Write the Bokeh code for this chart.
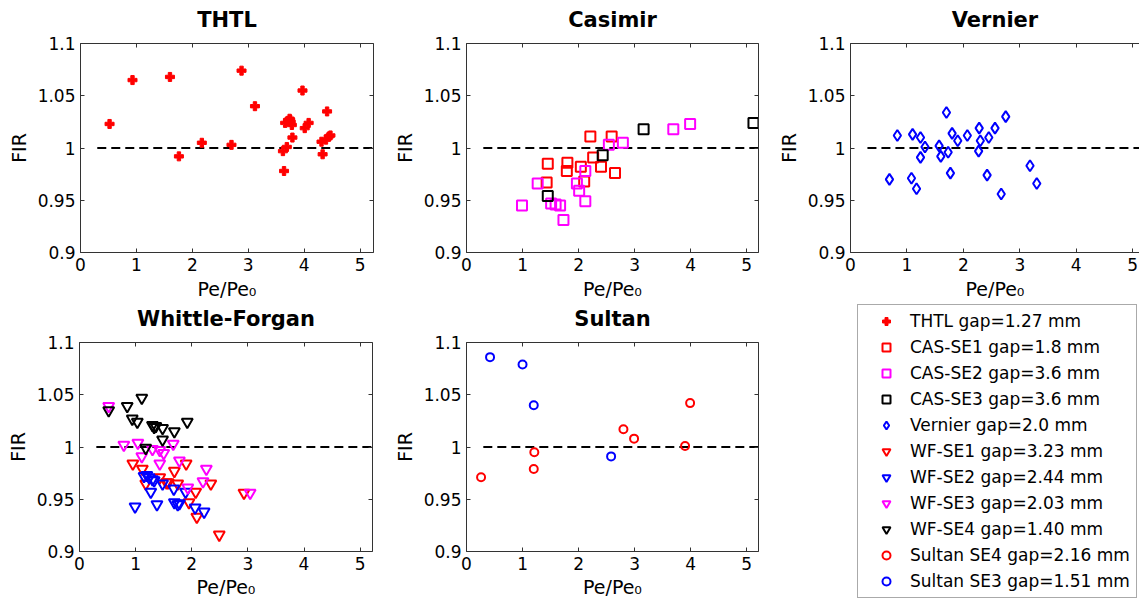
from bokeh.plotting import figure
from bokeh.layouts import column, row
from bokeh.models import (FixedTicker, LinearAxis, Legend, LegendItem,
                          ColumnDataSource, Range1d)
from bokeh.embed import file_html
from bokeh.resources import INLINE

# ---------------- data ----------------
titles = ["THTL", "Casimir", "Vernier", "Whittle-Forgan", "Sultan"]
x_axis_label = "Pe/Pe\u2080"
y_axis_label = "FIR"
x_ticks = [0, 1, 2, 3, 4, 5]
y_ticks = [0.9, 0.95, 1.0, 1.05, 1.1]
y_tick_labels = ["0.9", "0.95", "1", "1.05", "1.1"]
ref_x = [0.3, 5.6]
ref_y = [1.0, 1.0]

thtl_x = [0.52, 0.93, 1.60, 1.76, 2.17, 2.70, 2.88, 3.12, 3.64, 3.62, 3.66, 3.69, 3.71,
          3.74, 3.76, 3.78, 3.75, 3.79, 3.97, 4.01, 4.08, 4.31, 4.33, 4.41, 4.39, 4.44, 4.47]
thtl_y = [1.023, 1.065, 1.068, 0.992, 1.005, 1.003, 1.074, 1.040, 0.978, 0.997, 1.024, 1.001, 1.026,
          1.028, 1.025, 1.022, 1.027, 1.010, 1.055, 1.019, 1.024, 1.006, 0.994, 1.035, 1.008, 1.011, 1.012]

cas1_x = [1.45, 1.43, 1.80, 1.79, 2.04, 2.10, 2.21, 2.26, 2.40, 2.59, 2.65]
cas1_y = [0.985, 0.967, 0.986, 0.978, 0.982, 0.968, 1.011, 0.991, 0.982, 1.011, 0.976]
cas2_x = [0.99, 1.27, 1.51, 1.59, 1.67, 1.73, 1.97, 2.01, 2.12, 2.12, 2.54, 2.79, 3.69, 3.99]
cas2_y = [0.945, 0.966, 0.947, 0.946, 0.945, 0.931, 0.966, 0.959, 0.978, 0.949, 1.003, 1.005, 1.018, 1.023]
cas3_x = [1.45, 2.43, 3.16, 5.12]
cas3_y = [0.954, 0.993, 1.018, 1.024]

vern_x = [0.69, 0.83, 1.08, 1.10, 1.17, 1.24, 1.24, 1.32, 1.57, 1.60, 1.70, 1.73, 1.77,
          1.80, 1.90, 2.07, 2.28, 2.27, 2.30, 2.42, 2.45, 2.56, 2.67, 2.75, 3.18, 3.30]
vern_y = [0.970, 1.012, 0.971, 1.013, 0.961, 1.010, 0.991, 1.001, 1.002, 0.992, 1.034, 0.996, 0.976,
          1.014, 1.007, 1.012, 1.019, 0.997, 1.007, 0.974, 1.010, 1.019, 0.956, 1.030, 0.983, 0.966]

wf1_x = [0.95, 1.12, 1.18, 1.43, 1.55, 1.58, 1.69, 1.75, 1.90, 1.95, 2.07, 2.09, 2.34, 2.49, 2.93]
wf1_y = [0.984, 0.979, 0.965, 0.971, 0.966, 0.966, 0.977, 0.965, 0.984, 0.947, 0.957, 0.933, 0.965, 0.916, 0.956]
wf2_x = [0.99, 1.15, 1.20, 1.24, 1.30, 1.33, 1.27, 1.38, 1.48, 1.68, 1.69, 1.75, 1.78, 1.89, 2.06, 2.22]
wf2_y = [0.943, 0.972, 0.973, 0.971, 0.969, 0.968, 0.957, 0.945, 0.965, 0.960, 0.947, 0.945, 0.946, 0.957, 0.942, 0.938]
wf3_x = [0.52, 0.79, 1.04, 1.11, 1.30, 1.43, 1.43, 1.50, 1.67, 1.78, 1.93, 2.20, 2.26, 3.04]
wf3_y = [1.039, 1.002, 1.004, 0.991, 0.998, 0.984, 0.997, 0.994, 1.003, 0.987, 0.961, 0.967, 0.979, 0.956]
wf4_x = [0.52, 0.85, 1.11, 0.94, 1.03, 1.30, 1.33, 1.36, 1.48, 1.69, 1.92, 1.48, 1.18]
wf4_y = [1.035, 1.039, 1.047, 1.027, 1.024, 1.021, 1.019, 1.020, 1.018, 1.015, 1.024, 1.007, 0.999]

sul4_x = [0.26, 1.21, 1.20, 2.80, 2.99, 3.90, 3.99]
sul4_y = [0.971, 0.995, 0.979, 1.017, 1.008, 1.001, 1.042]
sul3_x = [0.42, 1.00, 1.20, 2.58]
sul3_y = [1.086, 1.079, 1.040, 0.991]

legend_labels = ["THTL gap=1.27 mm", "CAS-SE1 gap=1.8 mm", "CAS-SE2 gap=3.6 mm",
                 "CAS-SE3 gap=3.6 mm", "Vernier gap=2.0 mm", "WF-SE1 gap=3.23 mm",
                 "WF-SE2 gap=2.44 mm", "WF-SE3 gap=2.03 mm", "WF-SE4 gap=1.40 mm",
                 "Sultan SE4 gap=2.16 mm", "Sultan SE3 gap=1.51 mm"]

# ---------------- styling ----------------
FONT = "DejaVu Sans"
AXC = "#333333"
RED, MAG, BLK, BLU = "#FF0000", "#FF00FF", "#000000", "#0000FF"

styles = {
    "thtl": dict(marker="plus", size=9, fill_color=RED, line_color=RED, line_width=1),
    "cas1": dict(marker="square", size=10, fill_color=None, line_color=RED, line_width=2),
    "cas2": dict(marker="square", size=10, fill_color=None, line_color=MAG, line_width=2),
    "cas3": dict(marker="square", size=10, fill_color=None, line_color=BLK, line_width=2),
    "vern": dict(marker="diamond", size=11, fill_color=None, line_color=BLU, line_width=2),
    "wf1": dict(marker="inverted_triangle", size=11, fill_color=None, line_color=RED, line_width=2),
    "wf2": dict(marker="inverted_triangle", size=11, fill_color=None, line_color=BLU, line_width=2),
    "wf3": dict(marker="inverted_triangle", size=11, fill_color=None, line_color=MAG, line_width=2),
    "wf4": dict(marker="inverted_triangle", size=11, fill_color=None, line_color=BLK, line_width=2),
    "sul4": dict(marker="circle", size=8, fill_color=None, line_color=RED, line_width=2),
    "sul3": dict(marker="circle", size=8, fill_color=None, line_color=BLU, line_width=2),
}
legend_keys = ["thtl", "cas1", "cas2", "cas3", "vern", "wf1", "wf2", "wf3", "wf4", "sul4", "sul3"]


def style_axis(a, labels):
    a.axis_line_color = AXC
    a.major_tick_line_color = AXC
    a.major_tick_in = 4
    a.major_tick_out = 0
    a.minor_tick_line_color = None
    a.major_label_text_font = FONT
    a.major_label_text_font_size = "17px"
    a.major_label_text_color = "black"
    a.axis_label_text_font = FONT
    a.axis_label_text_font_size = "19px"
    a.axis_label_text_font_style = "normal"
    a.axis_label_text_color = "black"
    if not labels:
        a.major_label_standoff = 0


def make_panel(title, width, height, bl, br, bt, bb, x_end, xlab_standoff, right_axis=True):
    p = figure(width=width, height=height, output_backend="svg", toolbar_location=None,
               x_range=Range1d(0, x_end), y_range=Range1d(0.9, 1.1), title_location=None,
               x_axis_location=None, y_axis_location=None,
               min_border_left=bl, min_border_right=br, min_border_top=bt, min_border_bottom=bb)
    p.grid.visible = False
    p.outline_line_color = None
    p.background_fill_color = "white"
    p.border_fill_color = "white"

    xb = LinearAxis(ticker=FixedTicker(ticks=x_ticks), axis_label=x_axis_label)
    style_axis(xb, True)
    xb.major_label_standoff = 5
    xb.axis_label_standoff = xlab_standoff
    p.add_layout(xb, "below")

    # top axis: mirrored ticks, carries the panel title as its label
    xa = LinearAxis(ticker=FixedTicker(ticks=x_ticks), axis_label=title)
    xa.major_label_overrides = {t: "" for t in x_ticks}
    style_axis(xa, False)
    xa.axis_label_text_font_size = "21px"
    xa.axis_label_text_font_style = "bold"
    xa.axis_label_standoff = 12
    p.add_layout(xa, "above")

    yl = LinearAxis(ticker=FixedTicker(ticks=y_ticks), axis_label=y_axis_label)
    yl.major_label_overrides = dict(zip(y_ticks, y_tick_labels))
    style_axis(yl, True)
    yl.major_label_standoff = 5
    yl.axis_label_standoff = 5
    p.add_layout(yl, "left")

    if right_axis:
        yr = LinearAxis(ticker=FixedTicker(ticks=y_ticks))
        yr.major_label_overrides = {t: "" for t in y_ticks}
        style_axis(yr, False)
        p.add_layout(yr, "right")

    p.line(ref_x, ref_y, line_color="black", line_width=2, line_dash="9 5")
    return p


def scatter(p, xs, ys, key):
    return p.scatter(xs, ys, **styles[key])


TOP_H, BOT_H = 303, 302

p1 = make_panel(titles[0], 380, TOP_H, 80, 7, 43, 51, 5.24, 4)
scatter(p1, thtl_x, thtl_y, "thtl")

p2 = make_panel(titles[1], 380, TOP_H, 86, 2, 43, 51, 5.21, 4)
scatter(p2, cas1_x, cas1_y, "cas1")
scatter(p2, cas2_x, cas2_y, "cas2")
scatter(p2, cas3_x, cas3_y, "cas3")

p3 = make_panel(titles[2], 379, TOP_H, 90, 0, 43, 51, 5.12, 4, right_axis=False)
scatter(p3, vern_x, vern_y, "vern")

p4 = make_panel(titles[3], 380, BOT_H, 79, 8, 39, 54, 5.22, 3)
scatter(p4, wf1_x, wf1_y, "wf1")
scatter(p4, wf2_x, wf2_y, "wf2")
scatter(p4, wf3_x, wf3_y, "wf3")
scatter(p4, wf4_x, wf4_y, "wf4")

p5 = make_panel(titles[4], 380, BOT_H, 86, 2, 39, 54, 5.21, 3)
scatter(p5, sul4_x, sul4_y, "sul4")
scatter(p5, sul3_x, sul3_y, "sul3")

# legend panel (frame spans the whole area right of x=850)
p6 = figure(width=379, height=BOT_H, output_backend="svg", toolbar_location=None,
            x_range=Range1d(0, 1), y_range=Range1d(0, 1), title_location=None,
            x_axis_location=None, y_axis_location=None,
            min_border_left=90, min_border_right=0, min_border_top=0, min_border_bottom=0)
p6.grid.visible = False
p6.outline_line_color = None
nan = float("nan")
items = []
for key, lab in zip(legend_keys, legend_labels):
    r = p6.scatter("x", "y", source=ColumnDataSource(dict(x=[nan], y=[nan])), **styles[key])
    items.append(LegendItem(label=lab, renderers=[r]))
legend = Legend(items=items, location=(7, 7))
legend.label_text_font = FONT
legend.label_text_font_size = "17px"
legend.label_text_color = "black"
legend.label_standoff = 2
legend.glyph_width = 44
legend.glyph_height = 20
legend.label_height = 20
legend.spacing = 6
legend.padding = 6
legend.margin = 0
legend.border_line_color = "#555555"
legend.border_line_width = 1
legend.background_fill_color = "white"
legend.background_fill_alpha = 1
p6.add_layout(legend)

layout = row(column(row(p1, p2), row(p4, p5)), column(p3, p6))
open("out.html", "w").write(file_html(layout, INLINE))
